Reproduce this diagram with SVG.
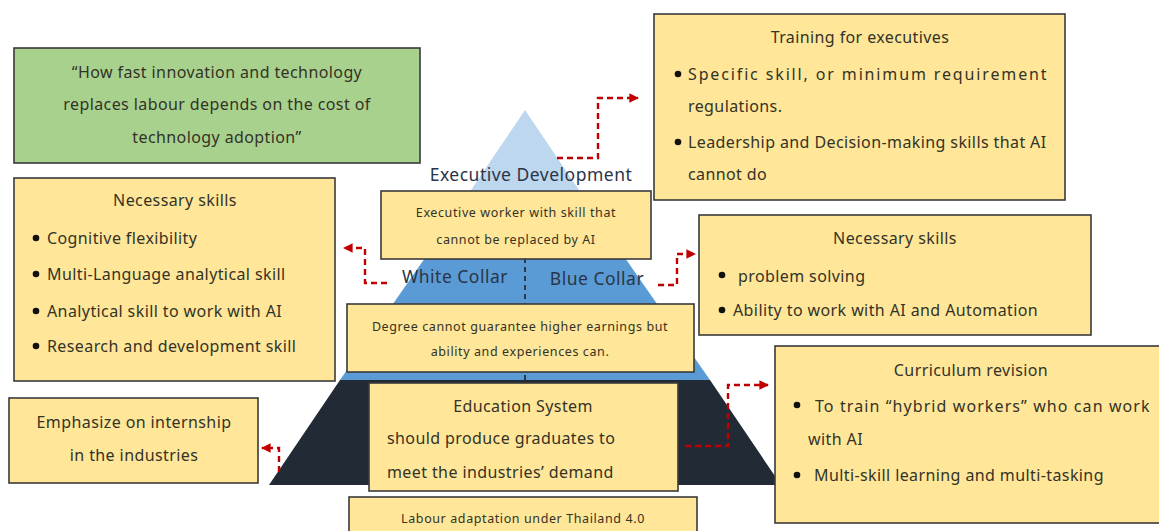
<svg xmlns="http://www.w3.org/2000/svg" width="1159" height="531" viewBox="0 0 1159 531">
<style>
  .box{fill:#ffe699;stroke:#3a3a3a;stroke-width:1.6}
  .green{fill:#a9d18e;stroke:#3a3a3a;stroke-width:1.6}
  text{font-family:"Noto Sans","DejaVu Sans",sans-serif;fill:#333326}
  .t15{font-size:16px;letter-spacing:0.4px}
  .t12{font-size:12.5px;letter-spacing:0.6px}
  .t17{font-size:17.5px;letter-spacing:0.5px;fill:#2a3547}
  .c{text-anchor:middle}
  .conn{fill:none;stroke:#c00000;stroke-width:2.4;stroke-dasharray:6 4}
</style>
<defs>
  <marker id="ah" viewBox="0 0 10 10" refX="9" refY="5" markerWidth="4" markerHeight="4" orient="auto" markerUnits="strokeWidth">
    <path d="M0,0 L10,5 L0,10 z" fill="#c00000"/>
  </marker>
</defs>
<rect width="1159" height="531" fill="#ffffff"/>

<g id="pyramid">
  <polygon points="525,110 434,245 616,245" fill="#bdd7ee"/>
  <polygon points="434,245 616,245 710,380 340,380" fill="#5b9bd5"/>
  <polygon points="340,380 710,380 781,485 269,485" fill="#222a35"/>
  <line x1="525" y1="258" x2="525" y2="382" stroke="#222" stroke-width="1.6" stroke-dasharray="5 4"/>
  <text class="t17 c" x="531" y="181">Executive Development</text>
  <text class="t17 c" x="455" y="283">White Collar</text>
  <text class="t17 c" x="597" y="285">Blue Collar</text>
</g>

<g id="quote">
  <rect class="green" x="14" y="48" width="406" height="115"/>
  <text class="t15 c" x="217" y="78">“How fast innovation and technology</text>
  <text class="t15 c" x="217" y="110">replaces labour depends on the cost of</text>
  <text class="t15 c" x="217" y="143">technology adoption”</text>
</g>

<g id="left-skills">
  <rect class="box" x="14" y="178" width="321" height="203"/>
  <text class="t15 c" x="175" y="206">Necessary skills</text>
  <circle cx="36" cy="238" r="3.3" fill="#111"/>
  <text class="t15" x="47" y="244">Cognitive flexibility</text>
  <circle cx="36" cy="274" r="3.3" fill="#111"/>
  <text class="t15" x="47" y="280">Multi-Language analytical skill</text>
  <circle cx="36" cy="311" r="3.3" fill="#111"/>
  <text class="t15" x="47" y="317">Analytical skill to work with AI</text>
  <circle cx="36" cy="346" r="3.3" fill="#111"/>
  <text class="t15" x="47" y="352">Research and development skill</text>
</g>

<g id="exec-worker">
  <rect class="box" x="381" y="191" width="270" height="68"/>
  <text class="t12 c" x="516" y="217">Executive worker with skill that</text>
  <text class="t12 c" x="516" y="244">cannot be replaced by AI</text>
</g>

<g id="training">
  <rect class="box" x="654" y="14" width="411" height="186"/>
  <text class="t15 c" x="860" y="43">Training for executives</text>
  <circle cx="678" cy="74" r="3.3" fill="#111"/>
  <text class="t15" x="688" y="80" textLength="359" lengthAdjust="spacing">Specific skill, or minimum requirement</text>
  <text class="t15" x="688" y="112">regulations.</text>
  <circle cx="678" cy="142" r="3.3" fill="#111"/>
  <text class="t15" x="688" y="148">Leadership and Decision-making skills that AI</text>
  <text class="t15" x="688" y="180">cannot do</text>
</g>

<g id="right-skills">
  <rect class="box" x="699" y="215" width="392" height="120"/>
  <text class="t15 c" x="895" y="244">Necessary skills</text>
  <circle cx="722" cy="275" r="3.3" fill="#111"/>
  <text class="t15" x="738" y="282">problem solving</text>
  <circle cx="722" cy="310" r="3.3" fill="#111"/>
  <text class="t15" x="733" y="316">Ability to work with AI and Automation</text>
</g>

<g id="degree">
  <rect class="box" x="347" y="304" width="347" height="68"/>
  <text class="t12 c" x="520" y="331">Degree cannot guarantee higher earnings but</text>
  <text class="t12 c" x="520" y="356">ability and experiences can.</text>
</g>

<g id="education">
  <rect class="box" x="369" y="383" width="309" height="108"/>
  <text class="t15 c" x="523" y="412">Education System</text>
  <text class="t15" x="387" y="444">should produce graduates to</text>
  <text class="t15" x="387" y="478">meet the industries’ demand</text>
</g>

<g id="labour">
  <rect class="box" x="349" y="497" width="348" height="40"/>
  <text class="t12 c" x="523" y="523">Labour adaptation under Thailand 4.0</text>
</g>

<g id="curriculum">
  <rect class="box" x="775" y="346" width="390" height="177"/>
  <text class="t15 c" x="971" y="376">Curriculum revision</text>
  <circle cx="797" cy="405" r="3.3" fill="#111"/>
  <text class="t15" x="815" y="412" textLength="335" lengthAdjust="spacing">To train “hybrid workers” who can work</text>
  <text class="t15" x="808" y="445">with AI</text>
  <circle cx="797" cy="475" r="3.3" fill="#111"/>
  <text class="t15" x="814" y="481">Multi-skill learning and multi-tasking</text>
</g>

<g id="internship">
  <rect class="box" x="9" y="398" width="249" height="85"/>
  <text class="t15 c" x="134" y="428">Emphasize on internship</text>
  <text class="t15 c" x="134" y="461">in the industries</text>
</g>

<g id="connectors">
  <path class="conn" d="M557,158 H598 V98 H638" marker-end="url(#ah)"/>
  <path class="conn" d="M387,283 H365 V248 H344" marker-end="url(#ah)"/>
  <path class="conn" d="M658,285 H677 V254 H695" marker-end="url(#ah)"/>
  <path class="conn" d="M685,446 H728 V385 H768" marker-end="url(#ah)"/>
  <path class="conn" d="M279,472 V448 H262" marker-end="url(#ah)"/>
</g>
</svg>
